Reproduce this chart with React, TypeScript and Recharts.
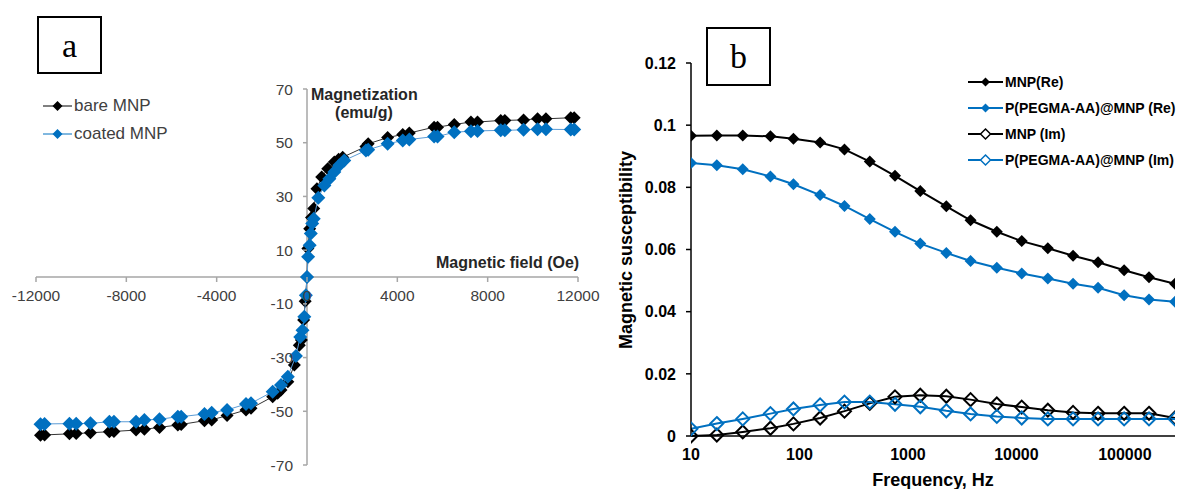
import React from 'react';
import { ScatterChart, Scatter, XAxis, YAxis, ReferenceLine, LineChart, Line } from 'recharts';

const BLUE = '#0070C0';
const FONT = '"Liberation Sans", Arial, sans-serif';
const SERIF = '"Liberation Serif", "Times New Roman", serif';

// panel a: field (Oe), magnetization (emu/g)
const bareMnp: [number, number][] = [
  [-11800, -58.9], [-11620, -58.8], [-10520, -58.4], [-10220, -58.3], [-9590, -58.0],
  [-8750, -57.6], [-8550, -57.5], [-7570, -57.0], [-7200, -56.7], [-6530, -56.0],
  [-5720, -55.1], [-5570, -54.9], [-4540, -53.5], [-4220, -53.2], [-3540, -51.6],
  [-2700, -49.5], [-2480, -48.9], [-1520, -44.6], [-1300, -43.3], [-1150, -42.1],
  [-850, -39.0], [-560, -32.8], [-340, -25.4], [-250, -23.5], [-150, -16.0],
  [-80, -9.0], [0, 0], [40, 10.6], [120, 18.0], [200, 22.2], [300, 25.5],
  [440, 32.9], [650, 37.2], [920, 40.3], [1210, 42.8], [1400, 43.8], [1580, 44.6],
  [2610, 48.6], [2710, 49.6], [3570, 51.9], [4240, 53.1], [4530, 53.6],
  [5630, 55.8], [5780, 55.8], [6520, 56.8], [7260, 57.7], [7550, 57.7],
  [8580, 58.3], [8760, 58.3], [9590, 58.5], [10210, 58.9], [10580, 58.9],
  [11680, 59.3], [11830, 59.3],
];
const coatedMnp: [number, number][] = [
  [-11800, -54.8], [-11620, -54.7], [-10520, -54.6], [-10220, -54.6], [-9590, -54.5],
  [-8750, -53.9], [-8550, -53.9], [-7570, -53.9], [-7200, -53.2], [-6530, -53.0],
  [-5720, -52.0], [-5570, -52.0], [-4540, -51.0], [-4220, -50.5], [-3540, -49.5],
  [-2700, -47.3], [-2480, -47.0], [-1520, -42.7], [-1150, -40.2], [-850, -37.1],
  [-490, -29.4], [-300, -22.3], [-200, -19.8], [-120, -14.8], [-50, -6.8], [0, 0],
  [50, 7.5], [120, 11.8], [170, 16.2], [230, 19.9], [300, 21.7], [500, 29.5],
  [770, 34.1], [990, 36.6], [1210, 39.1], [1430, 41.6], [1650, 43.4],
  [2610, 47.1], [2710, 47.4], [3570, 49.6], [4240, 50.8], [4530, 51.2],
  [5630, 52.3], [5780, 52.3], [6520, 53.9], [7260, 54.3], [7550, 54.4],
  [8580, 54.6], [8760, 54.6], [9590, 54.8], [10210, 55.0], [10580, 55.0],
  [11680, 54.9], [11830, 54.9],
];
const fieldTicks = [-12000, -8000, -4000, 0, 4000, 8000, 12000];
const magTicks = [-70, -50, -30, -10, 10, 30, 50, 70];

// panel b: frequency (Hz) and susceptibility
const freq = [10, 17.3, 30, 54, 88, 155, 260, 445, 760, 1300, 2260, 3780, 6600, 11200, 19500, 33300, 56600, 98500, 167000, 290000];
const mnpRe = [0.0966, 0.0967, 0.0967, 0.0964, 0.0956, 0.0944, 0.0922, 0.0883, 0.0837, 0.0788, 0.0739, 0.0694, 0.0657, 0.0627, 0.0604, 0.058, 0.0559, 0.0533, 0.0511, 0.049];
const pegRe = [0.0878, 0.0871, 0.0858, 0.0835, 0.081, 0.0775, 0.074, 0.0698, 0.0657, 0.0619, 0.0589, 0.0563, 0.0541, 0.0523, 0.0507, 0.049, 0.0477, 0.0453, 0.0439, 0.0432];
const mnpIm = [0, 0.0003, 0.0013, 0.0025, 0.0039, 0.0058, 0.008, 0.0105, 0.0126, 0.0131, 0.0128, 0.0117, 0.0103, 0.0093, 0.0083, 0.0076, 0.0073, 0.0073, 0.0073, 0.0058];
const pegIm = [0.0023, 0.004, 0.0055, 0.0072, 0.0087, 0.01, 0.0109, 0.0109, 0.0102, 0.0094, 0.0081, 0.0071, 0.0063, 0.0058, 0.0055, 0.0055, 0.0055, 0.0055, 0.0055, 0.0055];
const freqTicks = [10, 100, 1000, 10000, 100000];
const suscTicks = [0, 0.02, 0.04, 0.06, 0.08, 0.1, 0.12];

const bareData = bareMnp.map(([h, m]) => ({ h, m }));
const coatedData = coatedMnp.map(([h, m]) => ({ h, m }));
const suscData = freq.map((f, i) => ({ f, mnpRe: mnpRe[i], pegRe: pegRe[i], mnpIm: mnpIm[i], pegIm: pegIm[i] }));

const Diamond = ({ cx, cy, r, fill, stroke, sw }: any) => {
  if (cx == null || cy == null) return null;
  return (
    <path
      d={`M${cx},${cy - r}L${cx + r},${cy}L${cx},${cy + r}L${cx - r},${cy}Z`}
      fill={fill}
      stroke={stroke || 'none'}
      strokeWidth={sw || 0}
    />
  );
};

// panel a layout: axes cross in the middle of the plot
const A_W = 600, A_H = 489;
const A_M = { top: 89, right: 22, bottom: 23, left: 35 };
const ZERO_X = 36 + (A_W - 36 - A_M.right) / 2;
const ZERO_Y = A_M.top + (A_H - A_M.top - 24) / 2;
const AXIS_GRAY = '#a6a6a6';
const LABEL_GRAY = '#404040';

const fieldTick = ({ x, payload }: any) => (
  <g>
    <line x1={x} x2={x} y1={ZERO_Y} y2={ZERO_Y + 5} stroke={AXIS_GRAY} strokeWidth={1.5} />
    <text x={x} y={ZERO_Y + 24} textAnchor="middle" fontSize={15.5} fontFamily={FONT} fill={LABEL_GRAY}>
      {payload.value}
    </text>
  </g>
);

const magTick = ({ y, payload }: any) => (
  <g>
    <line x1={ZERO_X - 4} x2={ZERO_X} y1={y} y2={y} stroke={AXIS_GRAY} strokeWidth={1.5} />
    <text x={ZERO_X - 14} y={y + 5.5} textAnchor="end" fontSize={15.5} fontFamily={FONT} fill={LABEL_GRAY}>
      {payload.value}
    </text>
  </g>
);

const abs = (left: number, top: number, extra: React.CSSProperties = {}): React.CSSProperties => ({
  position: 'absolute', left, top, whiteSpace: 'nowrap', ...extra,
});

const LegendRow = ({ y, x0, x1, color, r, open, text, style }: any) => (
  <div style={abs(x0, y - 11, { height: 22, display: 'flex', alignItems: 'center' })}>
    <svg width={x1 - x0} height={22} style={{ display: 'block' }}>
      <line x1={0} x2={x1 - x0} y1={11} y2={11} stroke={color} strokeWidth={open !== undefined ? 2 : 1} />
      <Diamond cx={(x1 - x0) / 2} cy={11} r={r} fill={open ? '#fff' : color} stroke={color} sw={open ? 1.5 : 0} />
    </svg>
    <span style={{ marginLeft: 2, ...style }}>{text}</span>
  </div>
);

export default function App() {
  const bLabel = { fontFamily: FONT, fontWeight: 700, fontSize: 14, color: '#000' };
  const aLabel = { fontFamily: FONT, fontSize: 17, color: LABEL_GRAY };
  return (
    <div style={{ position: 'absolute', left: 0, top: 0, width: 1184, height: 489, background: '#fff', overflow: 'hidden' }}>
      {/* panel a */}
      <div style={abs(0, 0)}>
        <ScatterChart width={A_W} height={A_H} margin={A_M}>
          <XAxis
            type="number"
            dataKey="h"
            domain={[-12000, 12000]}
            ticks={fieldTicks}
            interval={0}
            height={1}
            axisLine={false}
            tickLine={false}
            tick={fieldTick}
          />
          <YAxis
            type="number"
            dataKey="m"
            domain={[-70, 70]}
            ticks={magTicks}
            interval={0}
            width={1}
            axisLine={false}
            tickLine={false}
            tick={magTick}
          />
          <ReferenceLine y={0} stroke={AXIS_GRAY} strokeWidth={1.5} />
          <ReferenceLine x={0} stroke={AXIS_GRAY} strokeWidth={1.5} />
          <Scatter
            data={bareData}
            isAnimationActive={false}
            line={{ stroke: '#333', strokeWidth: 1 }}
            shape={(p: any) => <Diamond cx={p.cx} cy={p.cy} r={6.5} fill="#000" />}
          />
          <Scatter
            data={coatedData}
            isAnimationActive={false}
            line={{ stroke: '#5B9BD5', strokeWidth: 1 }}
            shape={(p: any) => <Diamond cx={p.cx} cy={p.cy} r={7} fill={BLUE} />}
          />
        </ScatterChart>
      </div>
      <div style={abs(37, 16, { width: 65, height: 58, border: '2px solid #000', boxSizing: 'border-box', display: 'flex', alignItems: 'center', justifyContent: 'center', fontFamily: SERIF, fontSize: 34, paddingTop: 2 })}>a</div>
      <div style={abs(311, 85, { fontFamily: FONT, fontWeight: 700, fontSize: 16, lineHeight: '20px', color: '#262626' })}>Magnetization</div>
      <div style={abs(334, 103, { width: 60, textAlign: 'center', fontFamily: FONT, fontWeight: 700, fontSize: 16, lineHeight: '20px', color: '#262626' })}>(emu/g)</div>
      <div style={abs(436, 253, { fontFamily: FONT, fontWeight: 700, fontSize: 16, lineHeight: '20px', color: '#262626' })}>Magnetic field (Oe)</div>
      <LegendRow y={106} x0={43} x1={72} color="#000" r={5} text="bare MNP" style={aLabel} />
      <LegendRow y={134} x0={43} x1={72} color={BLUE} r={5} text="coated MNP" style={aLabel} />

      {/* panel b */}
      <div style={abs(600, 0)}>
        <LineChart width={584} height={489} data={suscData} margin={{ top: 63, right: 9, bottom: 0, left: 0 }}>
          <XAxis
            dataKey="f"
            type="number"
            scale="log"
            domain={[10, 290000]}
            allowDataOverflow
            ticks={freqTicks}
            interval={0}
            height={53}
            axisLine={{ stroke: '#000', strokeWidth: 1.5 }}
            tickLine={false}
            tickSize={6}
            tickMargin={7}
            tick={{ fill: '#000', fontSize: 16, fontWeight: 700, fontFamily: FONT }}
          />
          <YAxis
            type="number"
            domain={[0, 0.12]}
            ticks={suscTicks}
            interval={0}
            width={91}
            axisLine={{ stroke: '#000', strokeWidth: 1.5 }}
            tickLine={{ stroke: '#000', strokeWidth: 1.5 }}
            tickSize={5}
            tickMargin={10}
            tickFormatter={(v: number) => String(v)}
            tick={{ fill: '#000', fontSize: 16, fontWeight: 700, fontFamily: FONT }}
          />
          <Line
            dataKey="mnpRe"
            stroke="#000"
            strokeWidth={2}
            isAnimationActive={false}
            dot={(p: any) => <Diamond key={p.index} cx={p.cx} cy={p.cy} r={6} fill="#000" />}
          />
          <Line
            dataKey="pegRe"
            stroke={BLUE}
            strokeWidth={2}
            isAnimationActive={false}
            dot={(p: any) => <Diamond key={p.index} cx={p.cx} cy={p.cy} r={6} fill={BLUE} />}
          />
          <Line
            dataKey="mnpIm"
            stroke="#000"
            strokeWidth={2}
            isAnimationActive={false}
            dot={(p: any) => <Diamond key={p.index} cx={p.cx} cy={p.cy} r={6.5} fill="none" stroke="#000" sw={2} />}
          />
          <Line
            dataKey="pegIm"
            stroke={BLUE}
            strokeWidth={2}
            isAnimationActive={false}
            dot={(p: any) => <Diamond key={p.index} cx={p.cx} cy={p.cy} r={6.5} fill="none" stroke={BLUE} sw={2} />}
          />
        </LineChart>
      </div>
      <div style={abs(706, 27, { width: 65, height: 59, border: '2px solid #000', boxSizing: 'border-box', display: 'flex', alignItems: 'center', justifyContent: 'center', fontFamily: SERIF, fontSize: 34 })}>b</div>
      <div style={abs(526, 239, { width: 200, textAlign: 'center', transform: 'rotate(-90deg)', fontFamily: FONT, fontWeight: 700, fontSize: 18, lineHeight: '22px', color: '#000' })}>Magnetic susceptibility</div>
      <div style={abs(833, 469, { width: 200, textAlign: 'center', fontFamily: FONT, fontWeight: 700, fontSize: 18, lineHeight: '22px', color: '#000' })}>Frequency, Hz</div>
      <LegendRow y={82} x0={968} x1={1003} color="#000" r={4.5} open={false} text="MNP(Re)" style={bLabel} />
      <LegendRow y={108} x0={968} x1={1003} color={BLUE} r={4.5} open={false} text="P(PEGMA-AA)@MNP (Re)" style={bLabel} />
      <LegendRow y={134} x0={968} x1={1003} color="#000" r={5} open text="MNP (Im)" style={bLabel} />
      <LegendRow y={160} x0={968} x1={1003} color={BLUE} r={5} open text="P(PEGMA-AA)@MNP (Im)" style={bLabel} />
    </div>
  );
}
